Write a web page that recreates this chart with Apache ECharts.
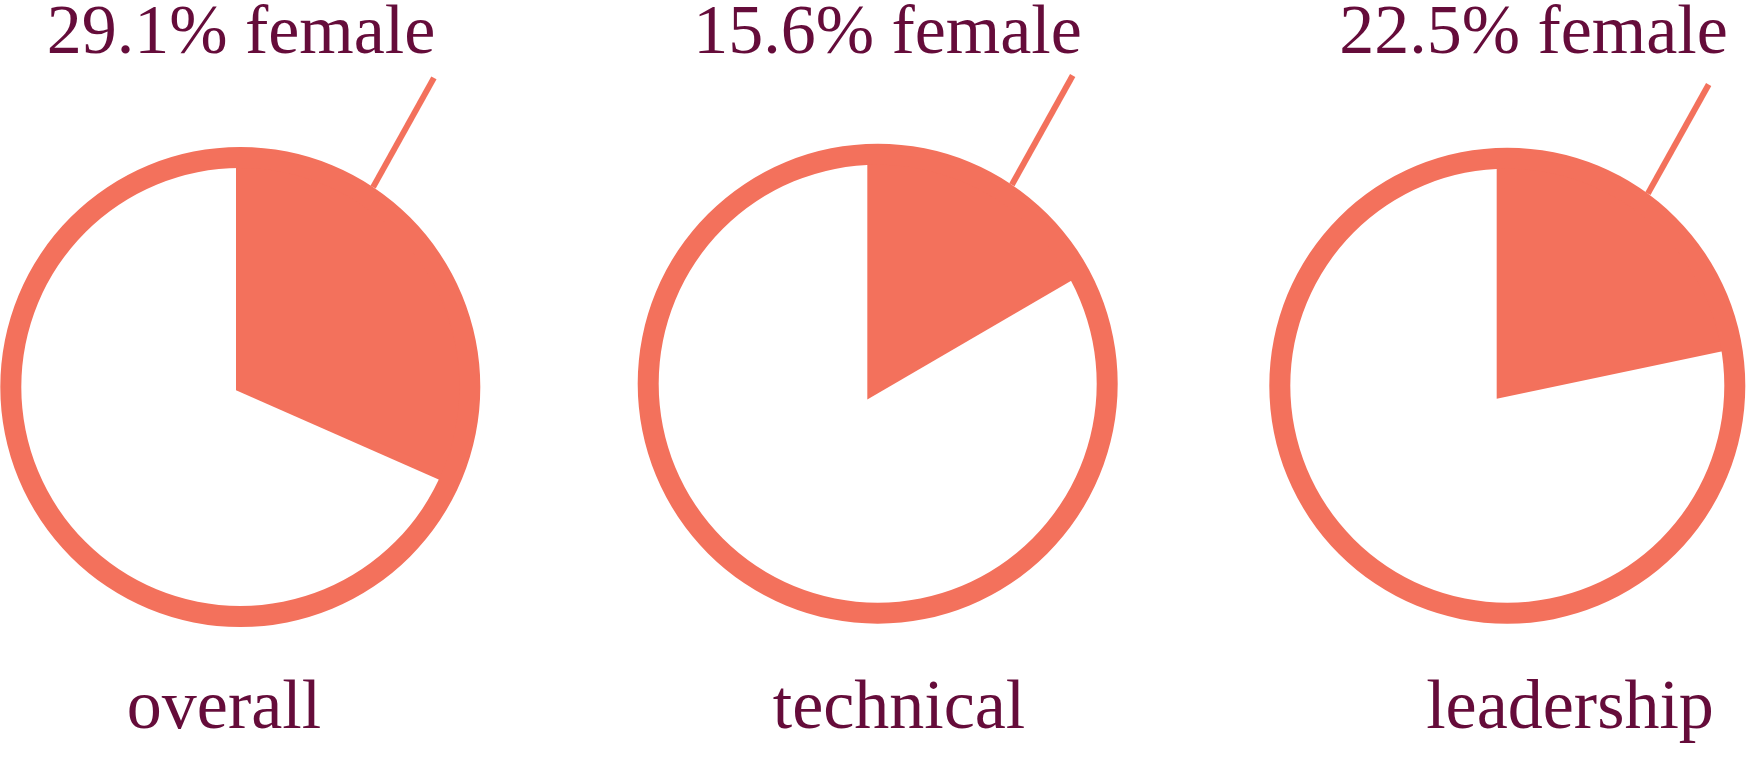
<!DOCTYPE html>
<html>
<head>
<meta charset="utf-8">
<script src="https://cdn.jsdelivr.net/npm/echarts@6/dist/echarts.min.js"></script>
<style>
  html, body { margin: 0; padding: 0; background: #ffffff; }
  #chart { width: 1746px; height: 764px; }
</style>
</head>
<body>
<div id="chart"></div>
<script>
// ---- data ----
const categories = ['overall', 'technical', 'leadership'];
const femaleLabelPct = [29.1, 15.6, 22.5];          // printed values
const femaleWedgeShare = [31.6, 16.6, 21.7];        // wedge share as drawn in the picture (%)

// ---- layout / style (not data) ----
const CORAL = '#F3715C';
const MAROON = '#650C3A';
const FONT = '"Liberation Serif", "DejaVu Serif", serif';
const ringCenters = [[240.3, 387], [877.7, 383.7], [1507.3, 385.7]];
const ringOuter = [240, 240, 238];
const ringWidth = 21;
const wedgeOffsets = [[-4.3, 3.2], [-10.4, 15.8], [-10.6, 13.1]];
const topLabelX = [241, 887.5, 1533.5];
const bottomLabelX = [224, 899, 1570];
const pointerStartAngle = [33.6, 34, 36.2];   // degrees clockwise from 12 o'clock
const pointerDir = 29.1;
const pointerLen = 125;

const series = [];
const graphics = [];
categories.forEach((cat, i) => {
  const c = ringCenters[i];
  const R = ringOuter[i];
  const wc = [c[0] + wedgeOffsets[i][0], c[1] + wedgeOffsets[i][1]];
  series.push({
    type: 'pie', silent: true, animation: false,
    center: wc, radius: [0, R],
    startAngle: 90, clockwise: true,
    label: { show: false }, labelLine: { show: false },
    emphasis: { disabled: true },
    itemStyle: { borderWidth: 0 },
    data: [
      { name: cat + ' female', value: femaleWedgeShare[i], itemStyle: { color: CORAL } },
      { name: cat + ' other', value: 100 - femaleWedgeShare[i], itemStyle: { color: 'rgba(0,0,0,0)' } }
    ],
    z: 2
  });
  series.push({
    type: 'pie', silent: true, animation: false,
    center: c, radius: [R - ringWidth, R],
    label: { show: false }, labelLine: { show: false },
    emphasis: { disabled: true },
    itemStyle: { borderWidth: 0, color: CORAL },
    data: [{ name: cat, value: 100 }],
    z: 3
  });
  const a = pointerStartAngle[i] * Math.PI / 180;
  const d = pointerDir * Math.PI / 180;
  const x1 = c[0] + R * Math.sin(a), y1 = c[1] - R * Math.cos(a);
  const x2 = x1 + pointerLen * Math.sin(d), y2 = y1 - pointerLen * Math.cos(d);
  graphics.push({
    type: 'line', silent: true, z: 10,
    shape: { x1: x1, y1: y1, x2: x2, y2: y2 },
    style: { stroke: CORAL, lineWidth: 6, lineCap: 'butt' }
  });
  graphics.push({
    type: 'text', silent: true, z: 10,
    style: {
      text: femaleLabelPct[i].toFixed(1) + '% female',
      x: topLabelX[i], y: 35,
      fill: MAROON, font: '70px ' + FONT,
      textAlign: 'center', align: 'center',
      textVerticalAlign: 'middle', verticalAlign: 'middle'
    }
  });
  graphics.push({
    type: 'text', silent: true, z: 10,
    style: {
      text: cat,
      x: bottomLabelX[i], y: 710,
      fill: MAROON, font: '70px ' + FONT,
      textAlign: 'center', align: 'center',
      textVerticalAlign: 'middle', verticalAlign: 'middle'
    }
  });
});

const chart = echarts.init(document.getElementById('chart'), null, { renderer: 'canvas' });
chart.setOption({
  backgroundColor: '#ffffff',
  animation: false,
  series: series,
  graphic: { elements: graphics }
});
</script>
</body>
</html>
